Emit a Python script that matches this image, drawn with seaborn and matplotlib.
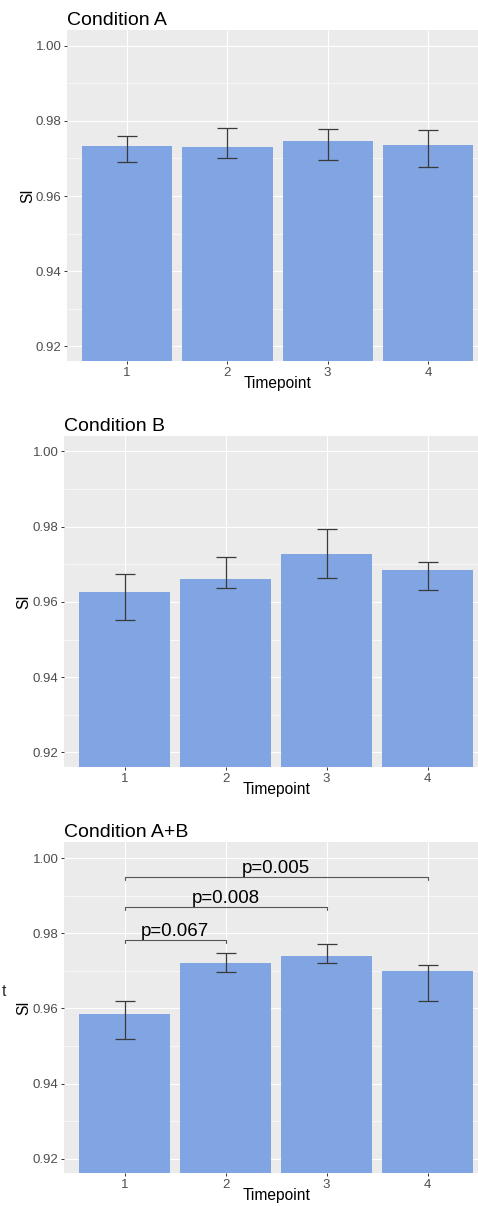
import numpy as np
import pandas as pd
import matplotlib
matplotlib.use("Agg")
import matplotlib.pyplot as plt
from matplotlib.ticker import MultipleLocator
import seaborn as sns

# ---- data ----
timepoints = ["1", "2", "3", "4"]

si_a = [0.9733, 0.9730, 0.9747, 0.9737]
lo_a = [0.9690, 0.9700, 0.9697, 0.9677]
hi_a = [0.9760, 0.9781, 0.9778, 0.9777]

si_b = [0.9626, 0.9661, 0.9728, 0.9684]
lo_b = [0.9553, 0.9637, 0.9664, 0.9632]
hi_b = [0.9675, 0.9720, 0.9795, 0.9706]

si_ab = [0.9584, 0.9721, 0.9740, 0.9699]
lo_ab = [0.9519, 0.9698, 0.9720, 0.9619]
hi_ab = [0.9620, 0.9748, 0.9770, 0.9715]

# significance brackets for A+B
pairs_ab = [("1", "2"), ("1", "3"), ("1", "4")]
bracket_y_ab = [0.9782, 0.9869, 0.9949]
pvals_ab = ["p=0.067", "p=0.008", "p=0.005"]

titles = ["Condition A", "Condition B", "Condition A+B"]

BAR_COLOR = "#80A5E2"
W, H = 478, 1206

sns.set_theme(style="darkgrid")
plt.rcParams["font.family"] = ["Liberation Sans", "DejaVu Sans"]
plt.rcParams["axes.facecolor"] = "#EBEBEB"


def place(fig, left, top, right, bottom):
    return fig.add_axes([left / W, 1 - bottom / H, (right - left) / W, (bottom - top) / H])


def draw_panel(ax, title, si, lo, hi):
    df = pd.DataFrame({"Timepoint": timepoints, "SI": si})
    sns.barplot(data=df, x="Timepoint", y="SI", color=BAR_COLOR, width=0.9,
                errorbar=None, linewidth=0, saturation=1, ax=ax)
    xs = np.arange(len(timepoints))
    si_arr = np.array(si)
    yerr = [si_arr - np.array(lo), np.array(hi) - si_arr]
    ax.errorbar(xs, si_arr, yerr=yerr, fmt="none", ecolor="#3a3a3a",
                elinewidth=0.9, capsize=7.5, capthick=0.9, zorder=3)

    ax.set_xlim(-0.6, 3.5)
    ax.set_ylim(0.9161, 1.0042)
    ax.yaxis.set_major_locator(MultipleLocator(0.02))
    ax.yaxis.set_minor_locator(MultipleLocator(0.01))
    ax.yaxis.set_major_formatter(matplotlib.ticker.FormatStrFormatter("%.2f"))
    ax.grid(which="major", color="white", linewidth=0.8)
    ax.grid(which="minor", axis="y", color="white", linewidth=0.45)
    ax.set_axisbelow(True)
    for s in ax.spines.values():
        s.set_visible(False)
    ax.tick_params(axis="both", which="major", length=2.5, width=0.7, color="#333333",
                   labelsize=9.5, labelcolor="#4D4D4D", pad=1.5, left=True, bottom=True)
    ax.tick_params(axis="y", which="minor", length=0)

    ax.set_title(title, loc="left", fontsize=14, pad=3.6, color="black")
    ax.set_xlabel("Timepoint", fontsize=11.2, color="black")
    ax.set_ylabel("SI", fontsize=11.2, color="black")
    ax.xaxis.set_label_coords(0.513, -0.045)
    ax.yaxis.set_label_coords(-0.078, 0.5)


fig = plt.figure(figsize=(W / 100, H / 100), dpi=100)
fig.patch.set_facecolor("white")

ax_a = place(fig, 67, 30, 478, 361)
draw_panel(ax_a, titles[0], si_a, lo_a, hi_a)

ax_b = place(fig, 64, 435.7, 478, 767)
draw_panel(ax_b, titles[1], si_b, lo_b, hi_b)

ax_c = place(fig, 64, 842.3, 478, 1173.3)
draw_panel(ax_c, titles[2], si_ab, lo_ab, hi_ab)

# brackets with p-values
tick_drop = 0.0008
for (a, b), yb, lab in zip(pairs_ab, bracket_y_ab, pvals_ab):
    x1, x2 = timepoints.index(a), timepoints.index(b)
    ax_c.plot([x1, x1, x2, x2], [yb - tick_drop, yb, yb, yb - tick_drop],
              color="#555555", linewidth=0.8, zorder=4)
    ax_c.text((x1 + x2) / 2, yb, lab, ha="center", va="bottom",
              fontsize=13.4, color="black", zorder=5)

# stray glyph at the left edge of the bottom panel
fig.text(2 / W, 1 - 992 / H, "t", fontsize=11.2, va="center", ha="left")

fig.savefig("out.png", dpi=100)
